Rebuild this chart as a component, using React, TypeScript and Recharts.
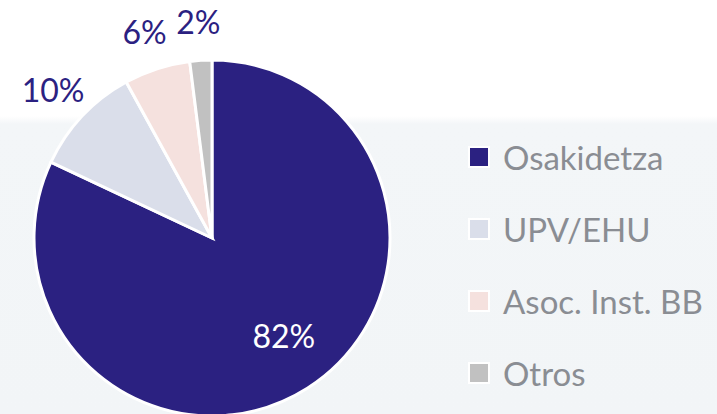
import React from "react";
import { PieChart, Pie, Cell, Legend } from "recharts";

const categories = ["Osakidetza", "UPV/EHU", "Asoc. Inst. BB", "Otros"];
const shares = [82, 10, 6, 2];
const colors = ["#2b2181", "#dadeea", "#f5e1de", "#c1c1c1"];

const data = categories.map((name, i) => ({ name, value: shares[i] }));

const RAD = Math.PI / 180;

const renderLabel = (props: any) => {
  const { cx, cy, midAngle, outerRadius, index, value } = props;
  if (index === 0) {
    const r = outerRadius * 0.69;
    const x = cx + r * Math.cos(-midAngle * RAD) + 6;
    const y = cy + r * Math.sin(-midAngle * RAD) - 6;
    return (
      <text x={x} y={y} fill="#ffffff" fontSize={32} fontWeight={400} fontFamily="Lato" textAnchor="middle" dominantBaseline="central">
        {value}%
      </text>
    );
  }
  const r = outerRadius + 40;
  const x = cx + r * Math.cos(-midAngle * RAD);
  const y = cy + r * Math.sin(-midAngle * RAD) + 1;
  return (
    <text x={x} y={y} fill="#2b2181" fontSize={32} fontWeight={400} fontFamily="Lato" textAnchor="middle" dominantBaseline="central">
      {value}%
    </text>
  );
};

const renderLegend = (props: any) => {
  const payload = [...(props.payload || [])].sort(
    (a: any, b: any) => categories.indexOf(a.value) - categories.indexOf(b.value)
  );
  return (
    <div>
      {payload.map((entry: any, i: number) => (
        <div key={i} style={{ display: "flex", alignItems: "center", height: 72 }}>
          <span
            style={{
              display: "inline-block",
              width: 18,
              height: 18,
              background: entry.color,
              border: "2px solid #ffffff",
              marginRight: 13,
            }}
          />
          <span style={{ color: "#8a8d93", fontSize: 33, fontWeight: 400, fontFamily: "Lato", lineHeight: "38px" }}>
            {entry.value}
          </span>
        </div>
      ))}
    </div>
  );
};

export default function App() {
  return (
    <div
      style={{
        position: "absolute",
        left: 0,
        top: 0,
        width: 717,
        height: 414,
        overflow: "hidden",
        background: "linear-gradient(to bottom, #ffffff 0px, #ffffff 116px, #f3f6f8 124px, #f2f5f7 414px)",
      }}
    >
      <PieChart width={717} height={414} margin={{ top: 0, right: 0, bottom: 0, left: 0 }}>
        <Pie
          data={data}
          dataKey="value"
          nameKey="name"
          cx={212}
          cy={238}
          outerRadius={178}
          startAngle={90}
          endAngle={-270}
          stroke="#ffffff"
          strokeWidth={3}
          label={renderLabel}
          labelLine={false}
          isAnimationActive={false}
        >
          {data.map((d, i) => (
            <Cell key={d.name} fill={colors[i]} />
          ))}
        </Pie>
        <Legend
          layout="vertical"
          align="right"
          verticalAlign="top"
          content={renderLegend}
          wrapperStyle={{ left: 468, top: 121, width: 260 }}
        />
      </PieChart>
    </div>
  );
}
